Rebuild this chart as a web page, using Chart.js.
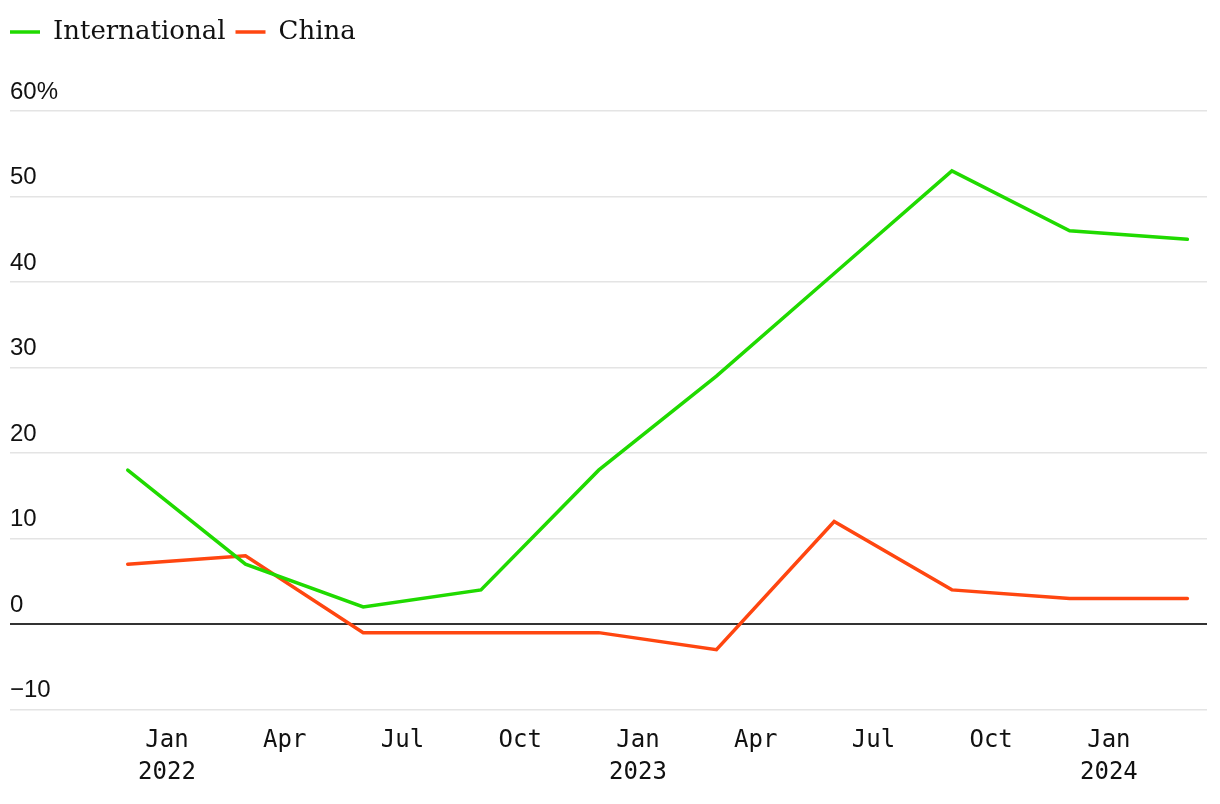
<!DOCTYPE html>
<html>
<head>
<meta charset="utf-8">
<script src="https://cdn.jsdelivr.net/npm/chart.js@4/dist/chart.umd.min.js"></script>
<style>
  html, body { margin: 0; padding: 0; background: #fff; }
  #wrap { width: 1220px; height: 804px; }
</style>
</head>
<body>
<div id="wrap"><canvas id="chart1"></canvas></div>
<script>
// quarters, as months from Jan 2022 (Dec 2021 = -1)
const quarterMonths = [-1, 2, 5, 8, 11, 14, 17, 20, 23, 26];
const international = [18, 7, 2, 4, 18, 29, 41, 53, 46, 45];
const china = [7, 8, -1, -1, -1, -3, 12, 4, 3, 3];

// x tick positions (months from Jan 2022) and their labels
const xTickMonths = [0, 3, 6, 9, 12, 15, 18, 21, 24];
const xTickLabels = [['Jan', '2022'], 'Apr', 'Jul', 'Oct', ['Jan', '2023'], 'Apr', 'Jul', 'Oct', ['Jan', '2024']];
const yTickValues = [-10, 0, 10, 20, 30, 40, 50, 60];
const yTickLabels = ['\u221210', '0', '10', '20', '30', '40', '50', '60%'];

function toPoints(values) {
  return values.map((v, i) => ({ x: quarterMonths[i], y: v }));
}

// push the plot area down below the legend
const legendGap = {
  id: 'legendGap',
  beforeInit(chart) {
    const fit = chart.legend.fit;
    chart.legend.fit = function () {
      fit.call(this);
      this.height += 56;
    };
  }
};

const ctx = document.getElementById('chart1').getContext('2d');
const liveChart = new Chart(ctx, {
  type: 'line',
  plugins: [legendGap],
  data: {
    datasets: [
      {
        label: 'International',
        data: toPoints(international),
        borderColor: '#20da00',
        backgroundColor: '#20da00',
        borderWidth: 3.5,
        borderCapStyle: 'round',
        pointRadius: 0,
        fill: false
      },
      {
        label: 'China',
        data: toPoints(china),
        borderColor: '#ff4610',
        backgroundColor: '#ff4610',
        borderWidth: 3.5,
        borderCapStyle: 'round',
        pointRadius: 0,
        fill: false
      }
    ]
  },
  options: {
    responsive: true,
    maintainAspectRatio: false,
    animation: false,
    layout: { padding: { left: 0, right: 13, top: 9, bottom: 0 } },
    plugins: {
      tooltip: { enabled: false },
      legend: {
        position: 'top',
        align: 'start',
        labels: {
          usePointStyle: true,
          pointStyle: 'line',
          pointStyleWidth: 30,
          padding: 10,
          color: '#111',
          font: { family: 'DejaVu Serif', size: 26 }
        }
      }
    },
    scales: {
      x: {
        type: 'linear',
        min: -4,
        max: 26.5,
        afterBuildTicks: axis => {
          axis.ticks = xTickMonths.map(v => ({ value: v }));
        },
        grid: { display: false, drawTicks: false },
        border: { display: false },
        ticks: {
          padding: 16,
          maxRotation: 0,
          autoSkip: false,
          color: '#111',
          font: { family: 'DejaVu Sans Mono', size: 24, lineHeight: 1.3 },
          callback: value => {
            const i = xTickMonths.indexOf(value);
            return i >= 0 ? xTickLabels[i] : '';
          }
        }
      },
      y: {
        min: -10,
        max: 60,
        afterBuildTicks: axis => {
          axis.ticks = yTickValues.map(v => ({ value: v }));
        },
        afterFit: axis => {
          axis.width = 10;
        },
        grid: {
          drawTicks: false,
          color: c => c.tick && c.tick.value === 0 ? '#333' : '#e4e4e4',
          lineWidth: c => c.tick && c.tick.value === 0 ? 2 : 1.5
        },
        border: { display: false },
        ticks: {
          mirror: true,
          padding: 0,
          labelOffset: -19,
          color: '#111',
          font: { family: 'Liberation Sans', size: 24 },
          callback: value => {
            const i = yTickValues.indexOf(value);
            return i >= 0 ? yTickLabels[i] : '';
          }
        }
      }
    }
  }
});
</script>
</body>
</html>
